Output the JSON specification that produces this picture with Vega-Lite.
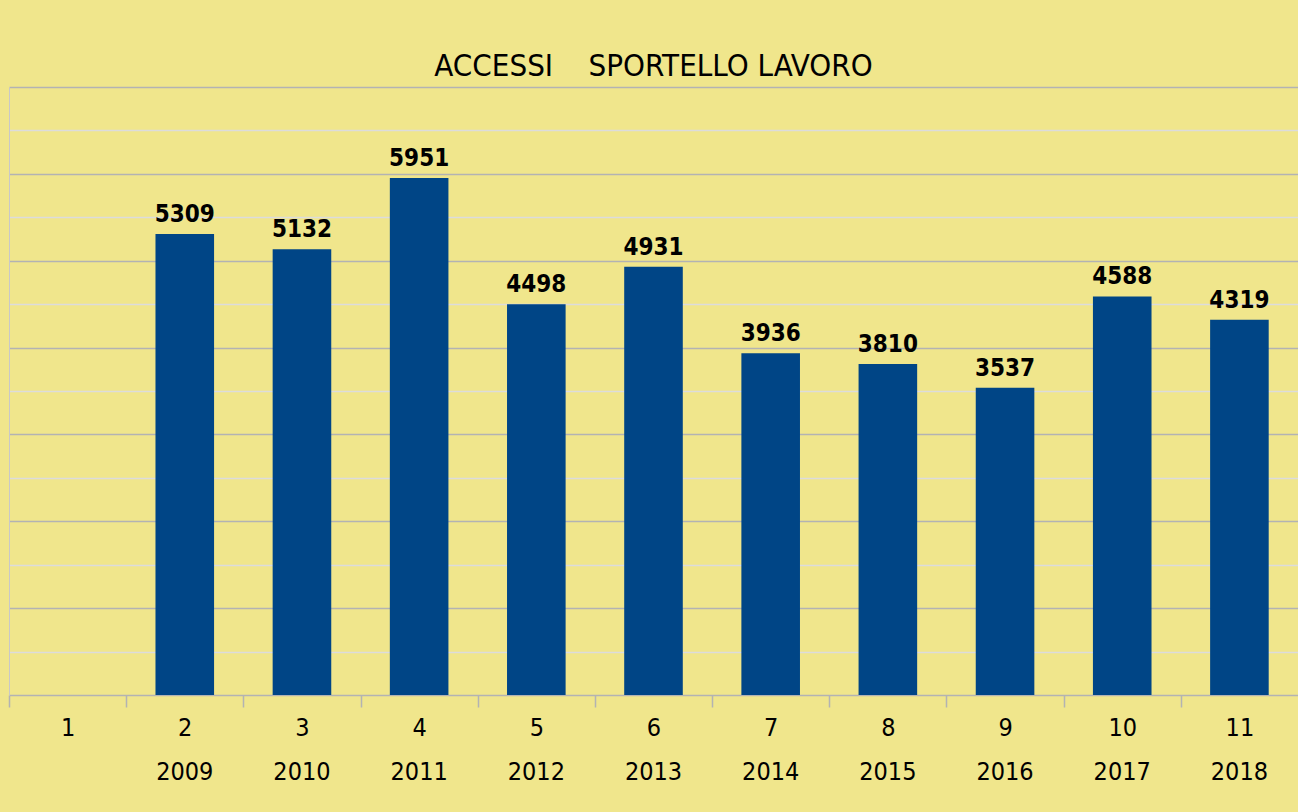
{
  "$schema": "https://vega.github.io/schema/vega-lite/v6.json",
  "autosize": "none",
  "width": 1289,
  "height": 608,
  "padding": {"left": 9, "top": 87, "right": 0, "bottom": 117},
  "background": "#F0E68C",
  "title": {
    "text": "ACCESSI\u00a0\u00a0\u00a0\u00a0SPORTELLO LAVORO",
    "font": "DejaVu Sans Condensed, Liberation Sans, sans-serif",
    "fontSize": 31,
    "fontWeight": "normal",
    "color": "#000000",
    "anchor": "middle",
    "baseline": "alphabetic",
    "offset": 10,
    "dy": 30
  },
  "config": {
    "view": {"stroke": null, "fill": "#F0E68C"},
    "font": "DejaVu Sans Condensed, Liberation Sans, sans-serif"
  },
  "data": {
    "values": [
      {"n": "1", "year": "", "value": null},
      {"n": "2", "year": "2009", "value": 5309},
      {"n": "3", "year": "2010", "value": 5132},
      {"n": "4", "year": "2011", "value": 5951},
      {"n": "5", "year": "2012", "value": 4498},
      {"n": "6", "year": "2013", "value": 4931},
      {"n": "7", "year": "2014", "value": 3936},
      {"n": "8", "year": "2015", "value": 3810},
      {"n": "9", "year": "2016", "value": 3537},
      {"n": "10", "year": "2017", "value": 4588},
      {"n": "11", "year": "2018", "value": 4319}
    ]
  },
  "encoding": {
    "x": {
      "field": "n",
      "type": "ordinal",
      "sort": null,
      "scale": {"domain": ["1","2","3","4","5","6","7","8","9","10","11"], "paddingInner": 0.5, "paddingOuter": 0.25},
      "axis": {
        "title": null,
        "labelAngle": 0,
        "labelFont": "DejaVu Sans Condensed, Liberation Sans, sans-serif",
        "labelFontSize": 25,
        "labelColor": "#000000",
        "labelPadding": 8,
        "tickOffset": -58.6,
        "labelOffset": 58.6,
        "tickSize": 12,
        "tickWidth": 1.5,
        "tickColor": "#b3b3b3",
        "domainColor": "#b3b3b3",
        "domainWidth": 1.5,
        "grid": false
      }
    }
  },
  "layer": [
    {
      "mark": {"type": "bar", "color": "#004586"},
      "encoding": {
        "y": {
          "field": "value",
          "type": "quantitative",
          "scale": {"domain": [0, 7000], "nice": false},
          "axis": {
            "title": null,
            "labels": false,
            "ticks": false,
            "values": [500, 1000, 1500, 2000, 2500, 3000, 3500, 4000, 4500, 5000, 5500, 6000, 6500, 7000],
            "domainColor": "#c8c8c8",
            "grid": true,
            "gridWidth": 1.5,
            "gridColor": {"condition": {"test": "datum.value % 1000 == 0", "value": "#b3b3b3"}, "value": "#dcdcdc"}
          }
        }
      }
    },
    {
      "transform": [{"filter": "datum.value != null"}],
      "mark": {
        "type": "text",
        "font": "DejaVu Sans Condensed, Liberation Sans, sans-serif",
        "fontSize": 24,
        "fontWeight": "bold",
        "color": "#000000",
        "baseline": "bottom",
        "dy": -7
      },
      "encoding": {
        "y": {"field": "value", "type": "quantitative"},
        "text": {"field": "value", "type": "quantitative"}
      }
    },
    {
      "mark": {
        "type": "text",
        "font": "DejaVu Sans Condensed, Liberation Sans, sans-serif",
        "fontSize": 25,
        "color": "#000000",
        "baseline": "middle",
        "dy": 77
      },
      "encoding": {
        "y": {"datum": 0, "type": "quantitative"},
        "text": {"field": "year"}
      }
    }
  ]
}
